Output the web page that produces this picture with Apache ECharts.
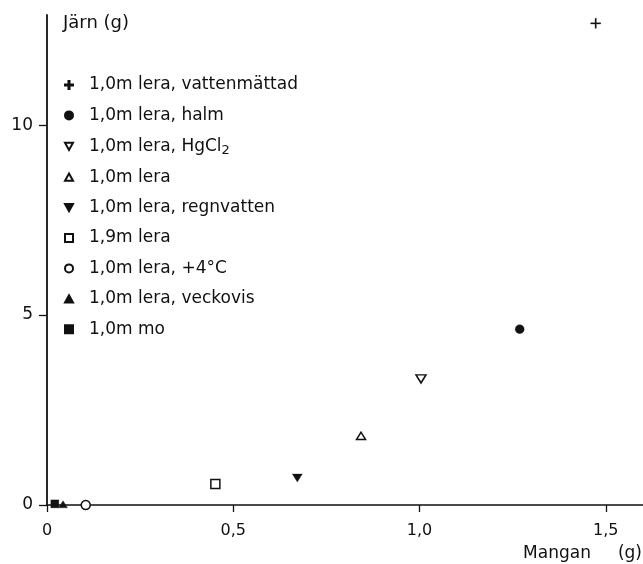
<!DOCTYPE html>
<html>
<head>
<meta charset="utf-8">
<script src="https://cdn.jsdelivr.net/npm/echarts@6/dist/echarts.min.js"></script>
<style>
  html, body { margin: 0; padding: 0; background: #fff; }
  #chart { width: 643px; height: 564px; }
</style>
</head>
<body>
<div id="chart"></div>
<script>
// Iron released against manganese released, one marker per soil treatment
const treatments = [
  '1,0m lera, vattenmättad',
  '1,0m lera, halm',
  '1,0m lera, HgCl2',
  '1,0m lera',
  '1,0m lera, regnvatten',
  '1,9m lera',
  '1,0m lera, +4°C',
  '1,0m lera, veckovis',
  '1,0m mo'
];
const manganGrams = [1.473, 1.269, 1.004, 0.843, 0.672, 0.452, 0.104, 0.043, 0.021];
const jarnGrams   = [12.68, 4.63, 3.32, 1.82, 0.71, 0.55, 0.0, 0.02, 0.03];
const xTickValues = [0, 0.5, 1.0, 1.5];
const yTickValues = [0, 5, 10];
const xAxisTitle = 'Mangan     (g)';
const yAxisTitle = 'Järn (g)';

const INK = '#111';
const FONT = 'DejaVu Sans';

// marker look for each treatment
const PLUS = 'path://M4.35,0h1.3v4.35h4.35v1.3h-4.35v4.35h-1.3v-4.35h-4.35v-1.3h4.35z';
const DOWN = 'path://M0,0L10,0L5,9Z';
const UP = 'path://M5,0L10,9L0,9Z';
const SQUARE = 'path://M0,0h10v10h-10z';
const markerStyles = [
  { symbol: PLUS, size: 10, filled: true },
  { symbol: 'circle', size: 9, filled: true },
  { symbol: DOWN, size: [10, 9], filled: false },
  { symbol: UP, size: [9, 8], filled: false },
  { symbol: DOWN, size: [10, 9], filled: true },
  { symbol: SQUARE, size: 9, filled: false },
  { symbol: 'circle', size: 9, filled: false },
  { symbol: UP, size: [9, 8], filled: true },
  { symbol: SQUARE, size: 8, filled: true }
];

const series = treatments.map((name, i) => {
  const m = markerStyles[i];
  return {
    type: 'scatter',
    name: name,
    symbol: m.symbol,
    symbolSize: m.size,
    symbolKeepAspect: true,
    data: [[manganGrams[i], jarnGrams[i]]],
    itemStyle: m.filled
      ? { color: INK, borderColor: INK, borderWidth: 0.3, opacity: 1 }
      : { color: '#fff', borderColor: INK, borderWidth: 1.5, opacity: 1 },
    emphasis: { disabled: true },
    z: 5
  };
});

const chart = echarts.init(document.getElementById('chart'), null, { renderer: 'canvas' });
chart.setOption({
  animation: false,
  backgroundColor: '#fff',
  grid: { left: 47, top: 15, width: 597.6, height: 490 },
  xAxis: {
    type: 'value',
    min: 0,
    max: 1.6,
    splitLine: { show: false },
    axisLine: { show: true, lineStyle: { color: INK, width: 1.5 } },
    axisTick: { show: true, length: 7, customValues: xTickValues, lineStyle: { color: INK, width: 1.3 } },
    axisLabel: {
      customValues: xTickValues,
      margin: 18,
      color: INK,
      fontFamily: FONT,
      fontSize: 16,
      formatter: v => String(v === 0 ? 0 : v.toFixed(1)).replace('.', ',')
    }
  },
  yAxis: {
    type: 'value',
    min: 0,
    max: 12.9,
    splitLine: { show: false },
    axisLine: { show: true, lineStyle: { color: INK, width: 1.8 } },
    axisTick: { show: true, length: 8, customValues: yTickValues, lineStyle: { color: INK, width: 1.3 } },
    axisLabel: {
      customValues: yTickValues,
      margin: 14,
      color: INK,
      fontFamily: FONT,
      fontSize: 17,
      formatter: v => String(v)
    }
  },
  legend: {
    orient: 'vertical',
    left: 64,
    top: 75,
    padding: 0,
    itemWidth: 8,
    itemHeight: 8,
    itemGap: 10.4,
    selectedMode: false,
    data: treatments,
    formatter: name => name.replace('HgCl2', 'HgCl{sub|2}'),
    textStyle: {
      color: INK,
      fontFamily: FONT,
      fontSize: 17,
      lineHeight: 20,
      padding: [0, 0, 0, 11],
      rich: {
        sub: { fontSize: 13, lineHeight: 12, fontFamily: FONT, color: INK, padding: [8, 0, 0, 0] }
      }
    }
  },
  graphic: [
    {
      type: 'text',
      left: 63,
      top: 14,
      style: { text: yAxisTitle, fill: INK, font: '18px "DejaVu Sans"' }
    },
    {
      type: 'text',
      right: 1,
      top: 545,
      style: { text: xAxisTitle, fill: INK, font: '17px "DejaVu Sans"', whiteSpace: 'pre' }
    }
  ],
  series: series
});
</script>
</body>
</html>
